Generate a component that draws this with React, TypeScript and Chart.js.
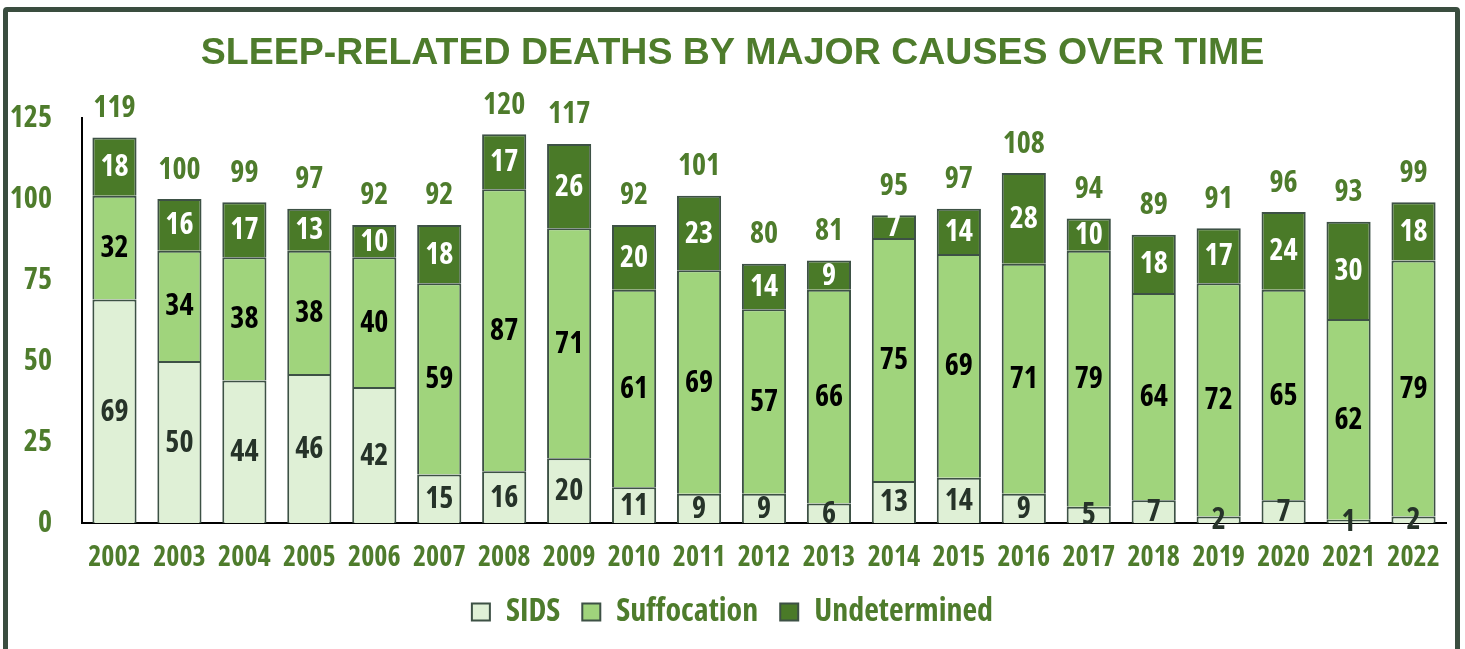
import React, { useEffect, useRef } from "react";
import { Chart, registerables } from "chart.js";

Chart.register(...registerables);

const years = ["2002", "2003", "2004", "2005", "2006", "2007", "2008", "2009", "2010", "2011", "2012", "2013", "2014", "2015", "2016", "2017", "2018", "2019", "2020", "2021", "2022"];
const sids = [69, 50, 44, 46, 42, 15, 16, 20, 11, 9, 9, 6, 13, 14, 9, 5, 7, 2, 7, 1, 2];
const suffocation = [32, 34, 38, 38, 40, 59, 87, 71, 61, 69, 57, 66, 75, 69, 71, 79, 64, 72, 65, 62, 79];
const undetermined = [18, 16, 17, 13, 10, 18, 17, 26, 20, 23, 14, 9, 7, 14, 28, 10, 18, 17, 24, 30, 18];
const totals = [119, 100, 99, 97, 92, 92, 120, 117, 92, 101, 80, 81, 95, 97, 108, 94, 89, 91, 96, 93, 99];
const seriesNames = ["SIDS", "Suffocation", "Undetermined"];
const yTickValues = [0, 25, 50, 75, 100, 125];
const titleText = "SLEEP-RELATED DEATHS BY MAJOR CAUSES OVER TIME";

const GREEN = "#4e7c2c";
const EDGE = "#3d5145";
const FILLS = ["#dff0d6", "#a0d47c", "#4a7a28"];
const LABEL_COLORS = ["#263329", "#000000", "#ffffff"];
const NARROW = "'Open Sans', 'Liberation Sans', sans-serif";
const NARROW_WEIGHT = "bold condensed";
const WIDE = "'Liberation Sans', Arial, sans-serif";

const valueLabels = {
  id: "valueLabels",
  afterDatasetsDraw(chart: any) {
    const ctx = chart.ctx;
    ctx.save();
    ctx.font = `${NARROW_WEIGHT} 30px ${NARROW}`;
    ctx.textAlign = "center";
    ctx.textBaseline = "middle";
    chart.data.datasets.forEach((ds: any, di: number) => {
      const meta = chart.getDatasetMeta(di);
      meta.data.forEach((el: any, i: number) => {
        const p = el.getProps(["x", "y", "base"], true);
        ctx.fillStyle = LABEL_COLORS[di];
        ctx.fillText(String(ds.data[i]), p.x, (p.y + p.base) / 2 + 1);
      });
    });
    const last = chart.getDatasetMeta(chart.data.datasets.length - 1);
    last.data.forEach((el: any, i: number) => {
      const p = el.getProps(["x", "y"], true);
      ctx.fillStyle = GREEN;
      ctx.fillText(String(totals[i]), p.x, p.y - 29);
    });
    ctx.restore();
  },
};

export default function App() {
  const canvasRef = useRef<HTMLCanvasElement | null>(null);

  useEffect(() => {
    if (!canvasRef.current) return;
    const data = [sids, suffocation, undetermined];
    const chart = new Chart(canvasRef.current, {
      type: "bar",
      data: {
        labels: years,
        datasets: seriesNames.map((name, i) => ({
          label: name,
          data: data[i],
          backgroundColor: FILLS[i],
          borderColor: EDGE,
          borderWidth: 2,
          borderSkipped: "start",
          barPercentage: 0.68,
          categoryPercentage: 1,
        })),
      },
      options: {
        responsive: false,
        animation: false,
        layout: { padding: { left: 0, right: 0, top: 0, bottom: 11 } },
        plugins: {
          title: {
            display: true,
            text: titleText,
            color: GREEN,
            font: { family: WIDE, size: 37.5, weight: "bold" },
            padding: { top: 31, bottom: 42 },
          },
          legend: {
            display: true,
            position: "bottom",
            labels: {
              color: GREEN,
              font: { family: NARROW, size: 32, weight: NARROW_WEIGHT },
              boxWidth: 18,
              boxHeight: 17,
              padding: 22,
            },
          },
          tooltip: { enabled: false },
        },
        scales: {
          x: {
            stacked: true,
            grid: { display: false, drawTicks: false },
            border: { display: true, color: "#000000", width: 2 },
            ticks: {
              color: GREEN,
              font: { family: NARROW, size: 28, weight: NARROW_WEIGHT },
              padding: 18,
              maxRotation: 0,
              autoSkip: false,
            },
            afterFit: (s: any) => {
              s.height = 51;
            },
          },
          y: {
            stacked: true,
            min: 0,
            max: 125,
            grid: { display: false, drawTicks: false },
            border: { display: true, color: "#000000", width: 2 },
            afterBuildTicks: (s: any) => {
              s.ticks = yTickValues.map((v) => ({ value: v }));
            },
            ticks: {
              color: GREEN,
              font: { family: NARROW, size: 30, weight: NARROW_WEIGHT },
              padding: 30,
            },
            afterFit: (s: any) => {
              s.width = 82;
            },
          },
          spacer: {
            type: "linear",
            position: "right",
            display: true,
            grid: { display: false, drawTicks: false },
            border: { display: false },
            ticks: { display: false },
            afterFit: (s: any) => {
              s.width = 19;
            },
          },
        },
      } as any,
      plugins: [valueLabels],
    });
    return () => chart.destroy();
  }, []);

  return (
    <div style={{ position: "fixed", left: 0, top: 0, width: 1465, height: 649, background: "#ffffff", overflow: "hidden" }}>
      <div
        style={{
          position: "absolute",
          left: 3,
          top: 7,
          width: 1457,
          height: 800,
          border: `5px solid #3a4d3f`,
          borderRadius: 4,
          boxSizing: "border-box",
        }}
      />
      <canvas
        ref={canvasRef}
        width={1465}
        height={649}
        style={{ position: "absolute", left: 0, top: 0, width: 1465, height: 649, display: "block" }}
      />
    </div>
  );
}
